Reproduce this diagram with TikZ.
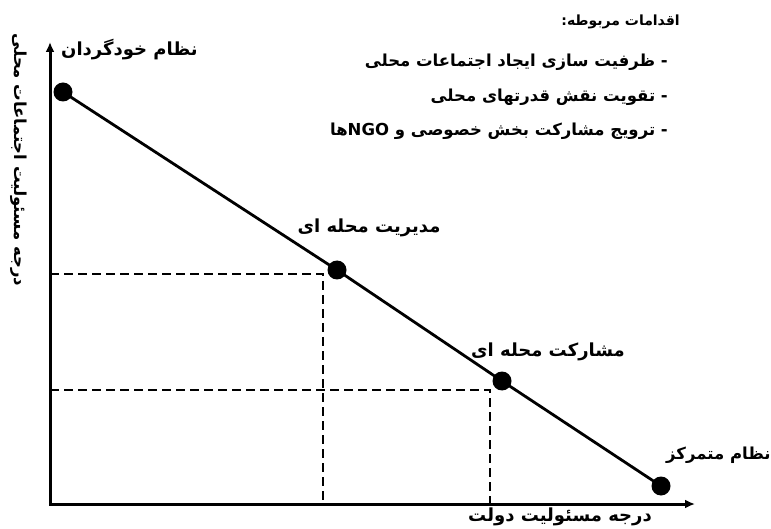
\documentclass[tikz,border=0pt]{standalone}
\usepackage{fontspec}
\newfontfamily\farsifont[Script=Arabic]{DejaVu Sans}
\TeXXeTstate=1
\usetikzlibrary{calc, arrows.meta}
\newcommand{\fatext}[1]{{\farsifont\bfseries\beginR #1\endR}}
\tikzset{
    axis/.style={line width=3pt, {Latex[length=10pt, width=9pt]}-{Latex[length=10pt, width=9pt]}},
    curve/.style={line width=2.8pt, line cap=round},
    guide/.style={line width=2pt, dash pattern=on 9pt off 5pt},
    dot/.style={circle, fill=black, inner sep=0pt, minimum size=19pt},
    label/.style={inner sep=1pt, font=\fontsize{18}{20}\selectfont},
    small label/.style={label, font=\fontsize{16.5}{18}\selectfont},
    common settings/.style={
        x={(1pt,0pt)},
        y={(0pt,-1pt)}
    }
}

\begin{document}
\begin{tikzpicture}[common settings]
    \useasboundingbox (0,0) rectangle (771,529);

    % Axes
    \coordinate (o) at (50,504);
    \coordinate (ytop) at (50,42);
    \coordinate (xend) at (695,504);
    \draw[axis] (ytop) -- (o) -- (xend);

    % Points on the line
    \node[dot] (self) at (63,92) {};
    \node[dot] (manage) at (337,270) {};
    \node[dot] (partic) at (502,381) {};
    \node[dot] (central) at (661,486) {};
    \draw[curve] (self.center) -- (manage.center) -- (partic.center) -- (central.center);

    % Dashed guides
    \coordinate (g1) at (323,274);
    \coordinate (g2) at (490,390);
    \draw[guide] (o |- g1) -- (g1) -- (g1 |- o);
    \draw[guide] (o |- g2) -- (g2) -- (g2 |- o);

    % Point labels
    \node[label, anchor=west] (selflbl) at (60,50) {\fatext{نظام خودگردان}};
    \node[label] (managelbl) at (369,228) {\fatext{مدیریت محله ای}};
    \node[label] (particlbl) at (548,352) {\fatext{مشارکت محله ای}};
    \node[small label, anchor=west] (centrallbl) at (665,455) {\fatext{نظام متمرکز}};

    % Axis labels
    \node[label] (xlbl) at (560,517) {\fatext{درجه مسئولیت دولت}};
    \node[small label, rotate=-90] (ylbl) at (19,160) {\fatext{درجه مسئولیت اجتماعات محلی}};

    % Related measures
    \node[label, font=\fontsize{14}{16}\selectfont, anchor=east] (head) at (681,22) {\fatext{اقدامات مربوطه:}};
    \node[small label, anchor=east] (m1) at (669,62) {\fatext{- ظرفیت سازی ایجاد اجتماعات محلی}};
    \node[small label, anchor=east] (m2) at (669,97) {\fatext{- تقویت نقش قدرتهای محلی}};
    \node[small label, anchor=east] (m3) at (669,131) {\fatext{- ترویج مشارکت بخش خصوصی و \beginL NGO\endL ها}};
\end{tikzpicture}
\end{document}
